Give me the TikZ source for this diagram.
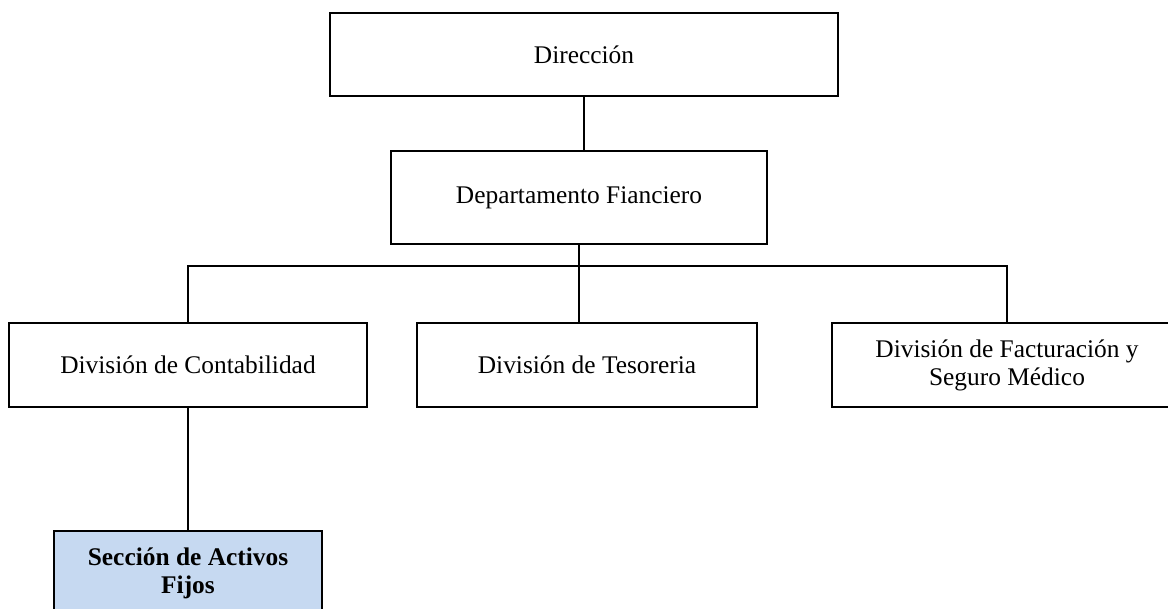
\documentclass[tikz,border=0pt]{standalone}
\usepackage{fontspec}
\setmainfont{Liberation Serif}
\definecolor{azulclaro}{HTML}{C6D9F1}

\begin{document}
\begin{tikzpicture}[x=0.5pt,y=-0.5pt,line width=0.9pt,
    caja/.style={draw, inner sep=0pt, align=center, font=\fontsize{12.7}{14}\selectfont}]
            \clip (0,0) rectangle (1168,609);
            \node[caja, minimum width=254pt, minimum height=41.5pt] (dir) at (584,54.5) {Dirección};
            \node[caja, minimum width=188pt, minimum height=46.5pt] (dep) at (579,197.5) {Departamento Fianciero};
            \node[caja, minimum width=179pt, minimum height=42pt] (cont) at (188,365) {División de Contabilidad};
            \node[caja, minimum width=170pt, minimum height=42pt] (tes) at (587,365) {División de Tesoreria};
            \node[caja, minimum width=175pt, minimum height=42pt] (fac) at (1007,365) {División de Facturación y\\Seguro Médico};
            \node[caja, fill=azulclaro, font=\fontsize{12.7}{14}\selectfont\bfseries, minimum width=134pt, minimum height=42pt] (sec) at (188,573) {Sección de Activos\\Fijos};
            \draw (dir.south) -- (dir.south |- dep.north);
            \draw (dep.south) -- (dep.south |- tes.north);
            \draw (cont.north) -- ++(0,-56) -| (fac.north);
            \draw (cont) -- (sec);
        \end{tikzpicture}
\end{document}
